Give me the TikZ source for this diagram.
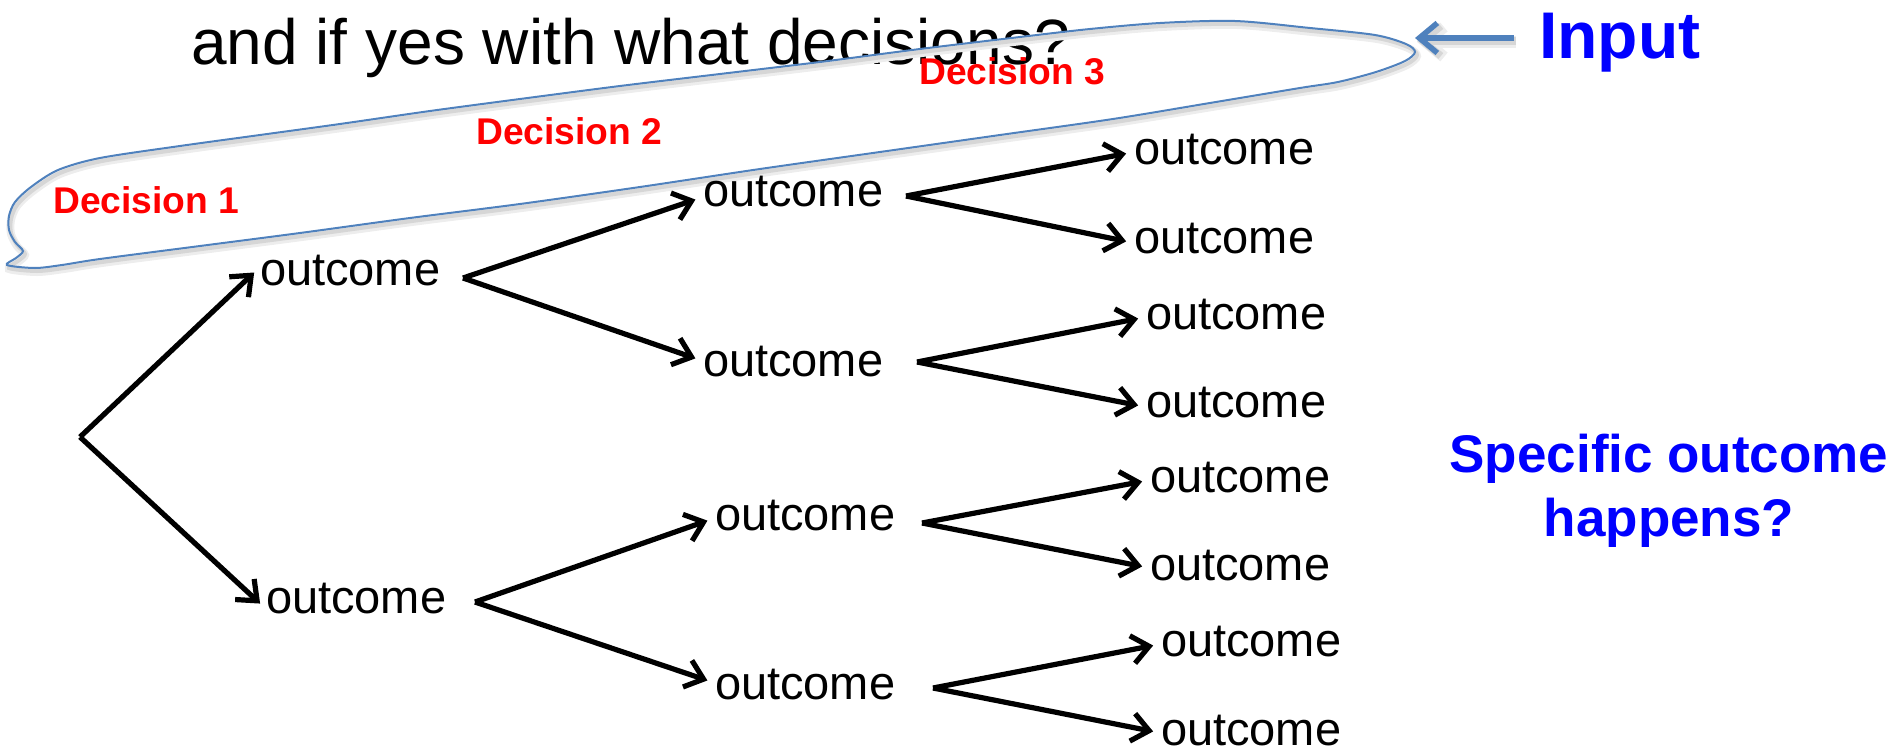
\documentclass[tikz,border=0pt]{standalone}
\usepackage{fontspec}
\setmainfont{Liberation Sans}
\usetikzlibrary{arrows.meta}
\definecolor{loopblue}{HTML}{4F81BD}
\begin{document}
\begin{tikzpicture}[x=1pt,y=-1pt,
  outc/.style={font=\fontsize{47}{56}\selectfont, inner sep=0pt, outer sep=0pt,
    anchor=base west, text height=24pt, text depth=0pt},
  dec/.style={font=\bfseries\fontsize{37.2}{44}\selectfont, text=red,
    inner sep=0pt, anchor=base west},
  hint/.style={font=\bfseries\fontsize{53}{64}\selectfont, text=blue,
    inner sep=0pt, anchor=base},
  branch/.style={line width=5.2pt, -{Straight Barb[length=17pt,width=28pt]},
    shorten >=8pt},
  softshadow/.style={
    preaction={draw=black!7, line width=#1+6pt, transform canvas={shift={(2pt,-4pt)}}},
    preaction={draw=black!16, line width=#1+2pt, transform canvas={shift={(2pt,-3pt)}}}},
  inarrow/.style={draw=loopblue, line width=5.5pt,
    -{Straight Barb[length=18pt,width=30pt]}, shorten <=25pt},
]
\useasboundingbox (0,0) rectangle (1893,750);

% question line
\node[anchor=base west, inner sep=0pt, font=\fontsize{64}{77}\selectfont]
  (title) at (191,64) {and if yes with what decisions?};

% loop around the decisions (evenly spaced points keep the spline tight)
\draw[loopblue, line width=2pt, softshadow=2pt]
  plot[smooth cycle, tension=0.5] coordinates {
    (7,265) (16,258) (23,251) (15,242) (9,230) (9,216) (15,202) (31,187)
    (58,170) (100,158) (180,146) (260,135) (340,124) (430,111) (520,99)
    (620,86) (720,74) (820,62) (920,49) (1020,37) (1090,29) (1160,23)
    (1235,21) (1310,28) (1375,35) (1406,44) (1415,52) (1405,61) (1376,72)
    (1338,82) (1300,88) (1210,103) (1113,119) (1000,135) (880,152)
    (760,169) (640,187) (520,204) (410,218) (300,233) (200,246) (100,259)
    (62,265) (35,268)};

% outcome nodes, level by level
\node[outc] (a1) at (260,285) {outcome};
\node[outc] (a2) at (266,613) {outcome};
\node[outc] (b1) at (703,206) {outcome};
\node[outc] (b2) at (703,376) {outcome};
\node[outc] (b3) at (715,530) {outcome};
\node[outc] (b4) at (715,699) {outcome};
\node[outc] (c1) at (1134,164) {outcome};
\node[outc] (c2) at (1134,253) {outcome};
\node[outc] (c3) at (1146,329) {outcome};
\node[outc] (c4) at (1146,417) {outcome};
\node[outc] (c5) at (1150,492) {outcome};
\node[outc] (c6) at (1150,580) {outcome};
\node[outc] (c7) at (1161,656) {outcome};
\node[outc] (c8) at (1161,745) {outcome};

% branching points
\coordinate (r0) at (80,437);
\coordinate (ka1) at (463,278);
\coordinate (ka2) at (475,602);
\coordinate (kb1) at (906,196);
\coordinate (kb2) at (917,362);
\coordinate (kb3) at (922,523);
\coordinate (kb4) at (933,688);

\draw[branch] (r0) -- ([yshift=6pt]a1.west);
\draw[branch] (r0) -- ([yshift=-8pt]a2.west);
\draw[branch] (ka1) -- ([yshift=-3pt]b1.west);
\draw[branch] (ka1) -- ([yshift=3pt]b2.west);
\draw[branch] (ka2) -- (b3.west);
\draw[branch] (ka2) -- ([yshift=4pt]b4.west);
\draw[branch] (kb1) -- (c1.west);
\draw[branch] (kb1) -- ([yshift=-2pt]c2.west);
\draw[branch] (kb2) -- (c3.west);
\draw[branch] (kb2) -- ([yshift=-2pt]c4.west);
\draw[branch] (kb3) -- (c5.west);
\draw[branch] (kb3) -- (c6.west);
\draw[branch] (kb4) -- (c7.west);
\draw[branch] (kb4) -- (c8.west);

% decision labels
\node[dec] (d1) at (53,213) {Decision 1};
\node[dec] (d2) at (476,144) {Decision 2};
\node[dec] (d3) at (919,84) {Decision 3};

% input label and its pointer
\node[font=\bfseries\fontsize{66}{79}\selectfont, text=blue, inner sep=0pt,
  anchor=base west, text height=40pt, text depth=0pt] (inp) at (1539,58) {Input};
\coordinate (loopR) at (1415,38);
\draw[inarrow, softshadow=5.5pt] (inp.west) -- (loopR);

% closing question
\node[hint] (q1) at (1669,472) {Specific outcome};
\node[hint] (q2) at (1669,536) {happens?};
\end{tikzpicture}
\end{document}
